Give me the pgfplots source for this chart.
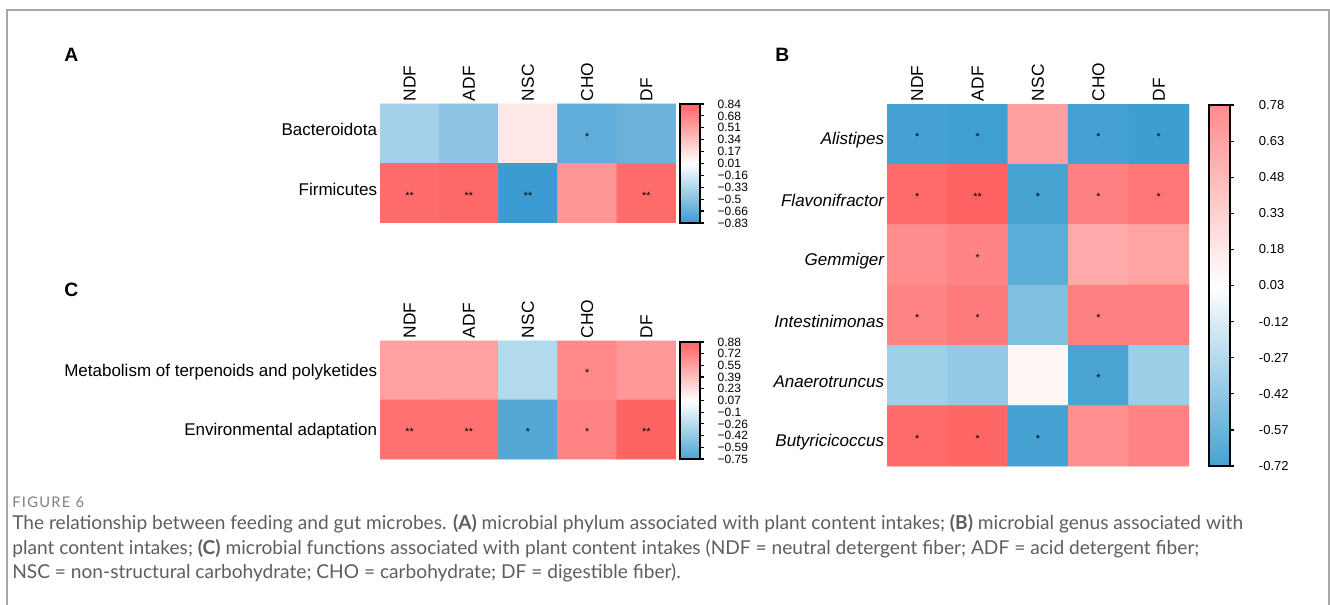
\documentclass[border=0pt]{standalone}
\usepackage{fontspec}
\setmainfont{Liberation Sans}
\newfontfamily\capfont{Lato}
\newfontfamily\figfont[LetterSpace=9]{Lato}
\usepackage{pgfplots}
\pgfplotsset{compat=1.18}
\definecolor{capgray}{HTML}{5E5E5E}
\definecolor{figgray}{HTML}{808080}
\definecolor{framegray}{HTML}{A8A8A8}
\pgfplotsset{
  colormap={cmA}{rgb255=(58,154,208) rgb255=(255,255,255) rgb255=(255,100,100)},
  colormap={cmC}{rgb255=(76,165,212) rgb255=(255,255,255) rgb255=(255,100,100)},
  colormap={cmB}{rgb255=(62,158,208) rgb255=(255,255,255) rgb255=(255,98,98)},
  colormap={cmBbar}{rgb255=(70,162,210) rgb255=(255,255,255) rgb255=(255,140,140)},
  hm/.style={scale only axis, enlargelimits=false,
    axis line style={draw=none}, major tick length=0pt, tick style={draw=none},
    xmin=-0.5, xmax=4.5, y dir=reverse,
    xtick={0,...,4}, xticklabels={NDF,ADF,NSC,CHO,DF}, xticklabel pos=upper,
    x tick label style={rotate=90, anchor=west, font=\fontsize{13}{14}\selectfont, inner sep=2pt},
    y tick label style={anchor=east, font=\fontsize{12.75}{14}\selectfont, inner sep=2pt},
  },
  cb/.style={scale only axis, enlargelimits=false, axis on top,
    xmin=0, xmax=1, xtick=\empty, ytick pos=right, yticklabel pos=right,
    tick align=outside, major tick length=3pt,
    axis line style={line width=1.4pt},
    major tick style={line width=0.9pt, black},
    y tick label style={anchor=west, font=\fontsize{9}{10}\selectfont, inner sep=0pt, xshift=10pt},
  },
  star/.style={only marks, mark=text, text mark={*}, text mark as node=true,
    text mark style={font=\fontsize{8}{8}\selectfont, inner sep=0pt, yshift=-2pt}},
  dstar/.style={only marks, mark=text, text mark={**}, text mark as node=true,
    text mark style={font=\fontsize{8}{8}\selectfont, inner sep=0pt, yshift=-2pt}},
}
\begin{document}
\begin{tikzpicture}
\begin{scope}[x=0.75pt, y=-0.75pt]
\useasboundingbox (0,0) rectangle (1330,605);
\draw[framegray, line width=1pt] (7,605) -- (7,10) -- (1329,10) -- (1329,605);
\node[anchor=base west, inner sep=0, font=\bfseries\fontsize{14.5}{15}\selectfont] at (64,62) {A};
\node[anchor=base west, inner sep=0, font=\bfseries\fontsize{14.5}{15}\selectfont] at (775,62) {B};
\node[anchor=base west, inner sep=0, font=\bfseries\fontsize{14.5}{15}\selectfont] at (64,297) {C};
\node[anchor=base west, inner sep=0, font=\figfont\fontsize{11}{12}\selectfont, text=figgray] at (12,507) {FIGURE 6};
\node[anchor=base west, inner sep=0, font=\capfont\fontsize{14.35}{16}\selectfont, text=capgray] at (12,529)
  {The relationship between feeding and gut microbes. \textbf{(A)} microbial phylum associated with plant content intakes; \textbf{(B)} microbial genus associated with};
\node[anchor=base west, inner sep=0, font=\capfont\fontsize{14.35}{16}\selectfont, text=capgray] at (12,554)
  {plant content intakes; \textbf{(C)} microbial functions associated with plant content intakes (NDF = neutral detergent fiber; ADF = acid detergent fiber;};
\node[anchor=base west, inner sep=0, font=\capfont\fontsize{14.35}{16}\selectfont, text=capgray] at (12,578)
  {NSC = non-structural carbohydrate; CHO = carbohydrate; DF = digestible fiber).};
\end{scope}

% ---------------- Panel A ----------------
\begin{axis}[hm, at={({380*0.75pt},{-223*0.75pt})}, anchor=south west,
  width=222pt, height=89.25pt, ymin=-0.5, ymax=1.5,
  y tick label style={yshift=3pt},
  ytick={0,1}, yticklabels={Bacteroidota,Firmicutes},
  colormap name=cmA, point meta min=-0.83, point meta max=0.84]
\addplot[matrix plot*, mesh/cols=5, point meta=explicit] table[meta=c] {
x y c
0 0 -0.38
1 0 -0.48
2 0 0.13
3 0 -0.67
4 0 -0.62
0 1 0.80
1 1 0.82
2 1 -0.82
3 1 0.57
4 1 0.80
};
\addplot[star] coordinates {(3,0)};
\addplot[dstar] coordinates {(0,1) (1,1) (2,1) (4,1)};
\end{axis}
\begin{axis}[cb, at={({680*0.75pt},{-223*0.75pt})}, anchor=south west,
  width=15pt, height=89.25pt, ymin=-0.83, ymax=0.84,
  colormap name=cmA, point meta min=-0.83, point meta max=0.84,
  ytick={0.84,0.673,0.506,0.339,0.172,0.005,-0.162,-0.329,-0.496,-0.663,-0.83},
  yticklabels={0.84,0.68,0.51,0.34,0.17,0.01,−0.16,−0.33,−0.5,−0.66,−0.83}]
\addplot[surf, shader=interp, mesh/cols=2, point meta=y] table {
x y
0 -0.83
1 -0.83
0 0.005
1 0.005
0 0.84
1 0.84
};
\end{axis}

% ---------------- Panel C ----------------
\begin{axis}[hm, at={({380*0.75pt},{-459*0.75pt})}, anchor=south west,
  width=222pt, height=88.5pt, ymin=-0.5, ymax=1.5,
  ytick={0,1}, yticklabels={Metabolism of terpenoids and polyketides,Environmental adaptation},
  y tick label style={yshift=-1.5pt},
  colormap name=cmC, point meta min=-0.75, point meta max=0.88]
\addplot[matrix plot*, mesh/cols=5, point meta=explicit] table[meta=c] {
x y c
0 0 0.56
1 0 0.56
2 0 -0.28
3 0 0.69
4 0 0.60
0 1 0.82
1 1 0.81
2 1 -0.72
3 1 0.72
4 1 0.88
};
\addplot[star] coordinates {(3,0) (2,1) (3,1)};
\addplot[dstar] coordinates {(0,1) (1,1) (4,1)};
\end{axis}
\begin{axis}[cb, at={({680*0.75pt},{-459*0.75pt})}, anchor=south west,
  width=15pt, height=87.75pt, ymin=-0.75, ymax=0.88,
  colormap name=cmC, point meta min=-0.75, point meta max=0.88,
  ytick={0.88,0.717,0.554,0.391,0.228,0.065,-0.098,-0.261,-0.424,-0.587,-0.75},
  yticklabels={0.88,0.72,0.55,0.39,0.23,0.07,−0.1,−0.26,−0.42,−0.59,−0.75}]
\addplot[surf, shader=interp, mesh/cols=2, point meta=y] table {
x y
0 -0.75
1 -0.75
0 0.065
1 0.065
0 0.88
1 0.88
};
\end{axis}

% ---------------- Panel B ----------------
\begin{axis}[hm, at={({887*0.75pt},{-466*0.75pt})}, anchor=south west,
  width=226.5pt, height=271.5pt, ymin=-0.5, ymax=5.5,
  ytick={0,...,5}, yticklabels={Alistipes,Flavonifractor,Gemmiger,Intestinimonas,Anaerotruncus,Butyricicoccus},
  y tick label style={font=\itshape\fontsize{12.75}{14}\selectfont, yshift=-4.5pt},
  colormap name=cmB, point meta min=-0.85, point meta max=0.85]
\addplot[matrix plot*, mesh/cols=5, point meta=explicit] table[meta=c] {
x y c
0 0 -0.82
1 0 -0.84
2 0 0.52
3 0 -0.82
4 0 -0.85
0 1 0.80
1 1 0.85
2 1 -0.81
3 1 0.69
4 1 0.74
0 2 0.62
1 2 0.66
2 2 -0.72
3 2 0.46
4 2 0.50
0 3 0.66
1 3 0.72
2 3 -0.56
3 3 0.69
4 3 0.69
0 4 -0.42
1 4 -0.47
2 4 0.05
3 4 -0.80
4 4 -0.43
0 5 0.80
1 5 0.83
2 5 -0.82
3 5 0.61
4 5 0.67
};
\addplot[star] coordinates {(0,0) (1,0) (3,0) (4,0) (0,1) (2,1) (3,1) (4,1) (1,2) (0,3) (1,3) (3,3) (3,4) (0,5) (1,5) (2,5)};
\addplot[dstar] coordinates {(1,1)};
\end{axis}
\begin{axis}[cb, at={({1209*0.75pt},{-466*0.75pt})}, anchor=south west,
  width=15.75pt, height=270.75pt, ymin=-0.72, ymax=0.78,
  colormap name=cmBbar, point meta min=-0.72, point meta max=0.78,
  y tick label style={font=\fontsize{9.75}{11}\selectfont, xshift=8.5pt},
  ytick={0.78,0.63,0.48,0.33,0.18,0.03,-0.12,-0.27,-0.42,-0.57,-0.72},
  yticklabels={0.78,0.63,0.48,0.33,0.18,0.03,-0.12,-0.27,-0.42,-0.57,-0.72}]
\addplot[surf, shader=interp, mesh/cols=2, point meta=y] table {
x y
0 -0.72
1 -0.72
0 0.03
1 0.03
0 0.78
1 0.78
};
\end{axis}
\end{tikzpicture}
\end{document}
